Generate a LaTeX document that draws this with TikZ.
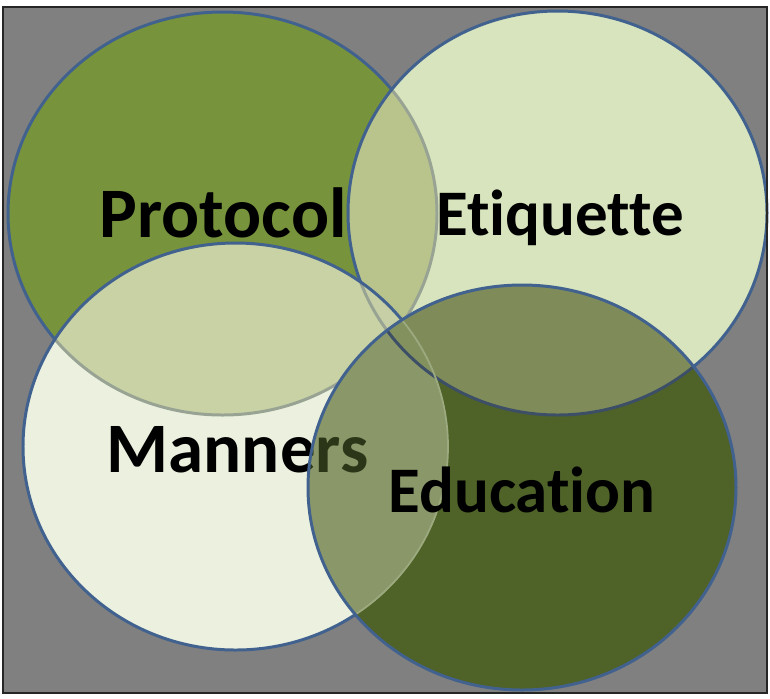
\documentclass[tikz,border=0pt]{standalone}
\usepackage{fontspec}
\setmainfont[Ligatures=NoCommon]{Carlito}
\usepackage{xcolor}
\usepackage{tikz}

\definecolor{slidegray}{HTML}{808080}
\definecolor{ringblue}{HTML}{41618F}
\definecolor{ringfaded}{HTML}{98A394}
\definecolor{ringdark}{HTML}{3C4F66}
\definecolor{ringlight}{HTML}{9DAA80}
\definecolor{protocolgreen}{HTML}{77933C}
\definecolor{etiquettegreen}{HTML}{D7E4BD}
\definecolor{mannersgreen}{HTML}{EBF1DE}
\definecolor{educationgreen}{HTML}{4F6228}
\definecolor{pe}{HTML}{B9C48C}
\definecolor{pm}{HTML}{C8D2A5}
\definecolor{em}{HTML}{D0D8B5}
\definecolor{pem}{HTML}{C6CFA6}
\definecolor{ed}{HTML}{7F8C5A}
\definecolor{md}{HTML}{8A9869}
\definecolor{emd}{HTML}{83915F}
\definecolor{tintedtext}{HTML}{2B3517}

\newcommand{\protocolpath}{(222.5,213.5) ellipse [x radius=214.5, y radius=201.5]}
\newcommand{\etiquettepath}{(557.5,213) ellipse [x radius=209.5, y radius=202]}
\newcommand{\mannerspath}{(235.5,446.5) ellipse [x radius=212.5, y radius=203.5]}
\newcommand{\educationpath}{(522,487.5) ellipse [x radius=214, y radius=202.5]}

\tikzset{
    ring/.style={draw=ringblue, line width=1.7pt},
    venntext/.style={anchor=base, inner sep=0pt, text=black},
    bigword/.style={venntext, font=\fontsize{40.4}{48}\selectfont\bfseries},
    smallword/.style={venntext, font=\fontsize{37}{44}\selectfont\bfseries},
}

\begin{document}
\begin{tikzpicture} [ x=0.02cm, y=-0.02cm, ]
    \useasboundingbox (0,0) rectangle (770,698);
    \fill[white] (0,0) rectangle (770,698);
    \fill[slidegray] (3,7) rectangle (767,693);

    \fill[protocolgreen] \protocolpath;
    \draw[ring] \protocolpath;
    \node[bigword] (protocol) at (223,237) {Protocol};

    \fill[etiquettegreen] \etiquettepath;
    \begin{scope}
        \clip \etiquettepath;
        \fill[pe] \protocolpath;
        \draw[ring, draw=ringfaded] \protocolpath;
    \end{scope}
    \draw[ring] \etiquettepath;
    \node[smallword] (etiquette) at (560,235) {Etiquette};

    \fill[mannersgreen] \mannerspath;
    \begin{scope}
        \clip \mannerspath;
        \fill[pm] \protocolpath;
        \fill[em] \etiquettepath;
        \begin{scope}
            \clip \protocolpath;
            \fill[pem] \etiquettepath;
        \end{scope}
        \draw[ring, draw=ringfaded] \protocolpath;
        \draw[ring, draw=ringfaded] \etiquettepath;
    \end{scope}
    \draw[ring] \mannerspath;
    \node[bigword] (manners) at (237.5,472) {Manners};

    \fill[educationgreen] \educationpath;
    \begin{scope}
        \clip \educationpath;
        \fill[ed] \etiquettepath;
        \fill[md] \mannerspath;
        \begin{scope}
            \clip \etiquettepath;
            \fill[emd] \mannerspath;
        \end{scope}
        \draw[ring, draw=ringdark] \etiquettepath;
        \draw[ring, draw=ringlight, line width=1pt] \mannerspath;
        \node[bigword, text=tintedtext] (mannerstint) at (manners.base) {Manners};
    \end{scope}
    \draw[ring] \educationpath;
    \node[smallword] (education) at (522,512) {Education};

    \draw[black!85, line width=1.1pt] (3,7) rectangle (767,693);
\end{tikzpicture}
\end{document}
